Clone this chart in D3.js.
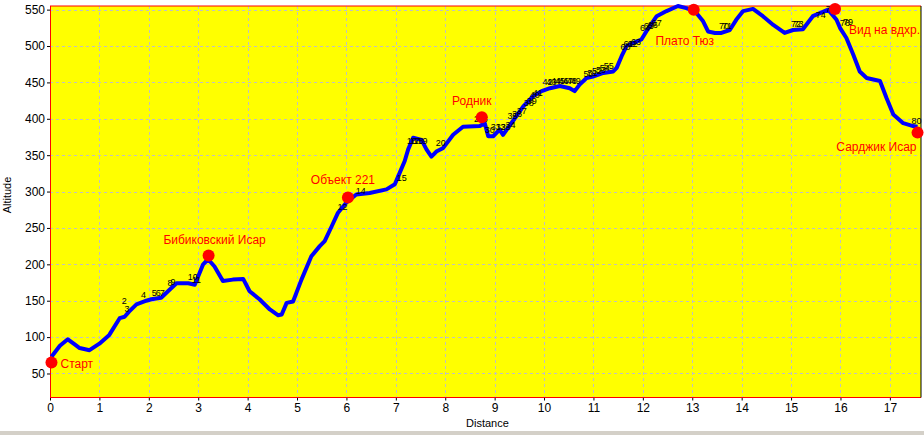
<!DOCTYPE html>
<html><head><meta charset="utf-8">
<script src="https://cdn.jsdelivr.net/npm/d3@7"></script>
<style>
html,body{margin:0;padding:0;background:#fff;}
svg{display:block;}
text{font-family:"Liberation Sans",Arial,sans-serif;}
</style></head>
<body>
<svg id="chart" width="924" height="435"></svg>
<script>
// ---- data ----
const profileDistance = [0.03,0.2,0.36,0.5,0.6,0.8,1.0,1.2,1.41,1.51,1.6,1.75,1.95,2.05,2.25,2.42,2.56,2.8,2.93,3.1,3.2,3.33,3.5,3.7,3.91,4.04,4.24,4.45,4.62,4.69,4.79,4.92,5.09,5.29,5.46,5.56,5.70,5.83,6.0,6.2,6.47,6.81,6.98,7.08,7.18,7.25,7.35,7.52,7.62,7.72,7.82,7.96,8.16,8.36,8.7,8.8,8.87,8.97,9.1,9.17,9.37,9.58,9.78,9.95,10.12,10.32,10.52,10.62,10.72,10.86,10.99,11.2,11.4,11.47,11.57,11.67,11.87,11.97,12.07,12.28,12.48,12.71,12.88,13.05,13.22,13.32,13.46,13.59,13.76,13.89,14.03,14.23,14.43,14.64,14.87,15.04,15.24,15.44,15.61,15.75,15.92,15.99,16.12,16.26,16.39,16.53,16.8,16.93,17.07,17.27,17.47,17.56];
const profileAltitude = [73,88,97,90,85,82,91,103,126,128,135,145,150,152,154,165,174,174,172,200,207,197,177,179,180,163,152,138,130,131,147,149,179,211,225,232,252,271,285,296,298,303,310,326,342,358,374,371,358,348,355,360,378,389,390,394,376,376,385,378,397,417,431,438,442,445,442,438,447,456,458,463,465,470,486,500,506,509,520,541,548,555,552,548,534,520,518,518,522,536,548,551,541,529,518,522,523,541,546,550,536,525,511,488,465,456,452,429,406,394,390,389];

const placeNames = ["Старт","Бибиковский Исар","Объект 221","Родник","Плато Тюз","Вид на вдхр.","Сарджик Исар"];
const placeDistance = [0.03,3.21,6.03,8.74,13.03,15.89,17.56];
const placeAltitude = [65,212,292,402,550,551,381];

const waypointText = ["2","3","4","5","6","7","8","9","10","11","12","14","15","16","17","18","19","20","22","23","30","31","32","33","34","35","36","37","38","39","40","41","42","43","44","45","46","47","48","49","50","51","52","53","54","55","60","61","62","63","64","65","66","67","70","71","72","73","74","75","78","79","80"];
const waypointDistance = [1.45,1.51,1.84,2.06,2.14,2.22,2.38,2.44,2.79,2.87,5.82,6.19,7.02,7.22,7.28,7.36,7.44,7.81,8.58,8.66,8.80,8.92,9.02,9.12,9.22,9.26,9.35,9.45,9.59,9.65,9.71,9.77,9.97,10.05,10.14,10.22,10.30,10.38,10.46,10.54,10.80,10.88,10.97,11.05,11.13,11.21,11.55,11.61,11.69,11.76,11.94,12.02,12.10,12.18,13.54,13.60,15.00,15.05,15.50,15.70,15.99,16.05,17.44];
const waypointAltitude = [145,134,154,157,157,157,170,172,179,174,274,296,314,366,366,366,366,362,395,395,381,385,385,385,388,400,403,407,417,421,428,432,447,447,448,448,448,448,448,448,457,459,461,463,465,468,495,498,499,501,520,523,525,527,523,523,526,526,538,547,528,529,393];

const xTicks = d3.range(0, 18, 1);
const yTicks = d3.range(50, 551, 50);
const xDomain = [0, 17.63];
const yDomain = [17, 555];

(function(){
const pL = 50, pR = 921, pT = 6, pB = 397.5;
const svg = d3.select("#chart");
const x = d3.scaleLinear().domain(xDomain).range([pL, pR]);
const y = d3.scaleLinear().domain(yDomain).range([pB, pT]);

svg.append("rect").attr("x",0).attr("y",431).attr("width",924).attr("height",4).attr("fill","#d4d0c8");
svg.append("rect").attr("x",pL).attr("y",pT).attr("width",pR-pL).attr("height",pB-pT).attr("fill","#ffff00");

const grid = svg.append("g").attr("stroke","#c0c0c0").attr("stroke-dasharray","3,3").attr("stroke-width",1);
xTicks.filter(d=>d>0).forEach(d=>{
  grid.append("line").attr("x1",Math.round(x(d))+0.5).attr("x2",Math.round(x(d))+0.5).attr("y1",pT).attr("y2",pB);
});
yTicks.forEach(d=>{
  grid.append("line").attr("x1",pL).attr("x2",pR).attr("y1",Math.round(y(d))+0.5).attr("y2",Math.round(y(d))+0.5);
});

const xAxis = d3.axisBottom(x).tickValues(xTicks).tickFormat(d3.format("d")).tickSize(3).tickPadding(3);
const yAxis = d3.axisLeft(y).tickValues(yTicks).tickFormat(d3.format("d")).tickSize(3).tickPadding(2);
const gx = svg.append("g").attr("transform",`translate(0,${pB})`).call(xAxis);
const gy = svg.append("g").attr("transform",`translate(${pL},0)`).call(yAxis);
[gx,gy].forEach(g=>{
  g.select(".domain").remove();
  g.selectAll("text").attr("font-size","12px").attr("fill","#000").style("font-family","'Liberation Sans',Arial,sans-serif");
  g.selectAll("line").attr("stroke","#000");
});

svg.append("line").attr("x1",pL).attr("x2",pR).attr("y1",pT).attr("y2",pT).attr("stroke","#ff0000");
svg.append("line").attr("x1",pL).attr("x2",pR).attr("y1",pB).attr("y2",pB).attr("stroke","#ff0000");
svg.append("line").attr("x1",pL+0.5).attr("x2",pL+0.5).attr("y1",pT).attr("y2",pB).attr("stroke","#ff0000");
svg.append("line").attr("x1",pR).attr("x2",pR).attr("y1",pT).attr("y2",pB).attr("stroke","#000");

svg.append("text").attr("x",466).attr("y",427).attr("font-size","11px").text("Distance");
svg.append("text").attr("transform","translate(11,195) rotate(-90)").attr("text-anchor","middle").attr("font-size","11px").text("Altitude");

const profile = profileDistance.map((d,i)=>({d, a: profileAltitude[i]}));
svg.append("path").datum(profile)
  .attr("d", d3.line().x(p=>x(p.d)).y(p=>y(p.a)))
  .attr("fill","none").attr("stroke","#0000ff").attr("stroke-width",4).attr("stroke-linejoin","round");

const wp = svg.append("g").attr("font-size","9px").attr("fill","#000");
waypointText.forEach((t,i)=>{
  wp.append("text").attr("x",x(waypointDistance[i])).attr("y",y(waypointAltitude[i])).text(t);
});

const labelStyle = [
  {anchor:"start", dx:9, dy:5},
  {anchor:"middle", dx:6, dy:-12},
  {anchor:"middle", dx:-5, dy:-13},
  {anchor:"middle", dx:-10, dy:-12},
  {anchor:"middle", dx:-9, dy:35},
  {anchor:"start", dx:14, dy:25},
  {anchor:"end", dx:-1, dy:18}
];
const pl = svg.append("g");
placeNames.forEach((n,i)=>{
  const cx = x(placeDistance[i]), cy = y(placeAltitude[i]);
  pl.append("circle").attr("cx",cx).attr("cy",cy).attr("r",6).attr("fill","#ff0000");
  pl.append("text").attr("x",cx+labelStyle[i].dx).attr("y",cy+labelStyle[i].dy)
    .attr("text-anchor",labelStyle[i].anchor).attr("font-size","12px").attr("fill","#ff0000").text(n);
});
})();
</script>
</body></html>
